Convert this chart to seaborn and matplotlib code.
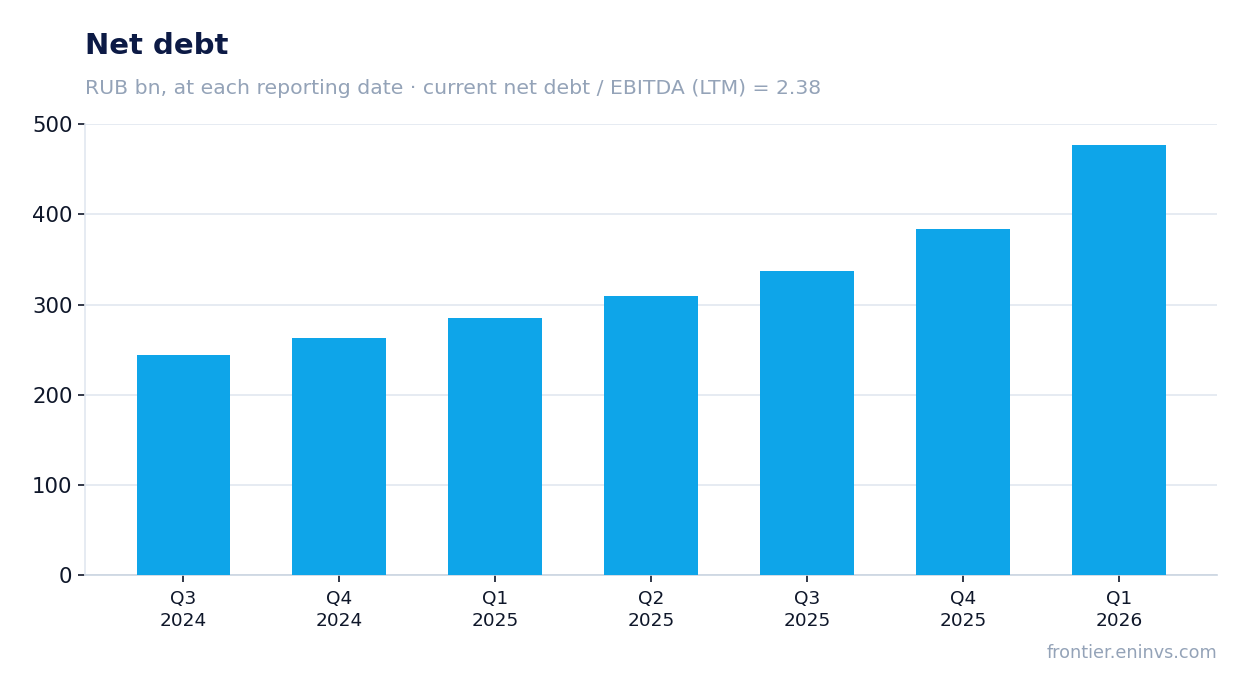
import pandas as pd
import matplotlib
matplotlib.use("Agg")
import matplotlib.pyplot as plt
import seaborn as sns

sns.set_theme(style="white")
plt.rcParams["font.family"] = ["DejaVu Sans"]

## Data
quarters = ["Q3\n2024", "Q4\n2024", "Q1\n2025", "Q2\n2025", "Q3\n2025", "Q4\n2025", "Q1\n2026"]
net_debt = [244, 263, 285, 309, 337, 384, 477]

df = pd.DataFrame({"quarter": quarters, "net_debt": net_debt})

fig = plt.figure(figsize=(12.47, 6.93), dpi=100)
ax = fig.add_axes([0.0682, 0.170, 0.9078, 0.651])

sns.barplot(data=df, x="quarter", y="net_debt", color="#0ea5e9", width=0.6,
            saturation=1, linewidth=0, ax=ax, zorder=3)

ax.set_ylim(0, 500)
ax.set_xlim(-0.63, 6.63)
ax.set_yticks([0, 100, 200, 300, 400, 500])
ax.grid(axis="y", color="#e2e8f0", linewidth=1.2, zorder=0)
ax.set_axisbelow(True)
ax.set_xlabel("")
ax.set_ylabel("")

for side in ["top", "right"]:
    ax.spines[side].set_visible(False)
ax.spines["left"].set_color("#e2e8f0")
ax.spines["bottom"].set_color("#cbd5e1")
ax.spines["left"].set_linewidth(1.2)
ax.spines["bottom"].set_linewidth(1.2)

ax.tick_params(axis="y", labelsize=15.3, colors="#0f172a", length=5, width=1.2, left=True, pad=4)
ax.tick_params(axis="x", labelsize=13.3, colors="#0f172a", length=5, width=1.2, bottom=True, pad=6)
for lab in ax.get_xticklabels():
    lab.set_linespacing(1.25)

fig.text(85 / 1247, 1 - 54 / 693, "Net debt", fontsize=21, fontweight="bold",
         color="#0c1a45", ha="left", va="baseline")
fig.text(85 / 1247, 1 - 94 / 693,
         "RUB bn, at each reporting date · current net debt / EBITDA (LTM) = 2.38",
         fontsize=14.7, color="#94a3b8", ha="left", va="baseline")
fig.text(1217 / 1247, 1 - 658 / 693, "frontier.eninvs.com", fontsize=12.7,
         color="#94a3b8", ha="right", va="baseline")

fig.savefig("out.png", dpi=100, facecolor="white")
